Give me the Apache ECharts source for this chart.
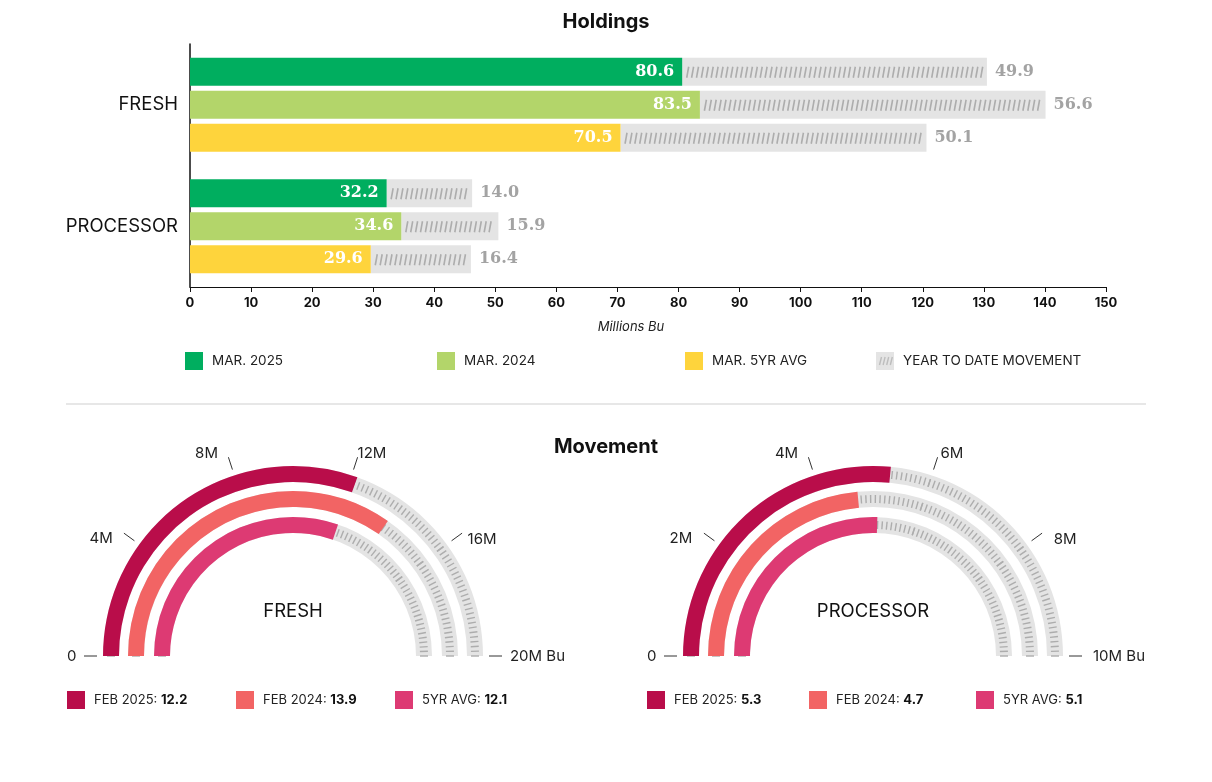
<!DOCTYPE html>
<html>
<head>
  <meta charset="utf-8">
  <title>Holdings and Movement</title>
  <script src="https://cdn.jsdelivr.net/npm/echarts@6/dist/echarts.min.js"></script>
  <style>
    html, body { margin: 0; padding: 0; background: #fff; }
    #chart { width: 1212px; height: 782px; }
  </style>
</head>
<body>
  <div id="chart"></div>
  <script>
    // holdings, millions of bushels
    var cats = ['FRESH', 'PROCESSOR'];
    var mar2025 = [80.6, 32.2];
    var mar2024 = [83.5, 34.6];
    var mar5yr = [70.5, 29.6];
    var ytd2025 = [49.9, 14.0];
    var ytd2024 = [56.6, 15.9];
    var ytd5yr = [50.1, 16.4];

    // movement gauges, millions of bushels
    var ringNames = ['FEB 2025', 'FEB 2024', '5YR AVG'];
    var freshMove = [12.2, 13.9, 12.1];
    var procMove = [5.3, 4.7, 5.1];
    var freshMax = 20, procMax = 10;

    var FONT = 'Inter, "Noto Sans", sans-serif';
    var SERIF = '"DejaVu Serif", serif';
    var BAR_W = 28, BAR_GAP = 5;
    var barColors = ['#00ae5f', '#b3d56a', '#fed43c'];
    var ringColors = ['#b90d4a', '#f26464', '#dd3a73'];
    var GRAY = '#e4e4e4', STRIPE = '#adadad';

    // little hatched square for the legend
    function hatchIcon() {
      var c = document.createElement('canvas');
      c.width = 18; c.height = 18;
      var ctx = c.getContext('2d');
      ctx.fillStyle = GRAY;
      ctx.fillRect(0, 0, 18, 18);
      ctx.strokeStyle = '#bdbdbd';
      ctx.lineWidth = 1.4;
      for (var i = 0; i < 4; i++) {
        var x = 3.5 + i * 3.6;
        ctx.beginPath();
        ctx.moveTo(x, 13);
        ctx.lineTo(x + 2, 5);
        ctx.stroke();
      }
      return 'image://' + c.toDataURL();
    }

    var holdings = [mar2025, mar2024, mar5yr];
    var ytds = [ytd2025, ytd2024, ytd5yr];
    var barNames = ['MAR. 2025', 'MAR. 2024', 'MAR. 5YR AVG'];

    var ytdData = [];
    for (var s = 0; s < 3; s++) {
      for (var i = 0; i < cats.length; i++) {
        ytdData.push([i, s, holdings[s][i], holdings[s][i] + ytds[s][i], ytds[s][i]]);
      }
    }

    function renderYtd(params, api) {
      var cat = api.value(0), slot = api.value(1);
      var p0 = api.coord([api.value(2), cat]);
      var p1 = api.coord([api.value(3), cat]);
      var h = BAR_W;
      var y = p0[1] + (slot - 1) * (BAR_W + BAR_GAP) - h / 2;
      var x0 = p0[0], x1 = p1[0];
      var children = [{
        type: 'rect',
        shape: { x: x0, y: y, width: x1 - x0, height: h },
        style: { fill: GRAY }
      }];
      for (var x = x0 + 4.5; x < x1 - 5; x += 4.9) {
        children.push({
          type: 'line',
          shape: { x1: x, y1: y + 20, x2: x + 2, y2: y + 9 },
          style: { stroke: STRIPE, lineWidth: 1.6 }
        });
      }
      children.push({
        type: 'text',
        style: {
          text: api.value(4).toFixed(1),
          x: x1 + 8, y: y + h / 2,
          align: 'left', verticalAlign: 'middle',
          fill: '#a3a3a3', font: 'bold 16px ' + SERIF
        }
      });
      return { type: 'group', children: children };
    }

    var series = [];
    for (var k = 0; k < 3; k++) {
      series.push({
        name: barNames[k],
        type: 'bar',
        stack: 's' + k,
        barWidth: BAR_W,
        barGap: (BAR_GAP / BAR_W * 100) + '%',
        itemStyle: { color: barColors[k] },
        label: {
          show: true, position: 'insideRight', distance: 8,
          color: '#fff', fontFamily: SERIF, fontWeight: 'bold', fontSize: 16,
          formatter: function (p) { return p.value.toFixed(1); }
        },
        data: holdings[k]
      });
    }
    series.push({
      name: 'YEAR TO DATE MOVEMENT',
      type: 'custom',
      renderItem: renderYtd,
      encode: { x: [2, 3], y: 0 },
      itemStyle: { color: GRAY },
      data: ytdData
    });

    // gauge puts outer labels with inward alignment, nudge each one with padding
    var tickPads = [
      [0, 0, 0, 49],
      [89, 0, 0, 19],
      [52, 3, 0, 0],
      [52, 12, 0, 0],
      [91, 19, 0, 0],
      [0, 3, 0, 0]
    ];
    var tickRich = {};
    tickPads.forEach(function (p, idx) {
      tickRich['t' + idx] = { fontSize: 15, color: '#222', fontFamily: FONT, padding: p };
    });

    function ring(name, value, max, radius, color, center, ticks, outer, title) {
      return {
        type: 'gauge',
        name: name,
        center: center,
        radius: radius,
        startAngle: 180,
        endAngle: 0,
        min: 0,
        max: max,
        splitNumber: 5,
        itemStyle: { color: color },
        axisLine: { lineStyle: { width: 16, color: [[1, GRAY]] } },
        progress: { show: true, width: 16, itemStyle: { color: color } },
        axisTick: {
          show: true, splitNumber: ticks, distance: -12, length: 8,
          lineStyle: { color: STRIPE, width: 1.4 }
        },
        splitLine: outer ? {
          show: true, distance: -35, length: 13,
          lineStyle: { color: '#333', width: 1 }
        } : { show: false },
        axisLabel: outer ? {
          show: true, distance: -63, color: '#222', fontSize: 15, fontFamily: FONT,
          formatter: function (v) {
            var idx = Math.round(v / (max / 5));
            var txt = v === 0 ? '0' : (idx === 5 ? v + 'M Bu' : v + 'M');
            return '{t' + idx + '|' + txt + '}';
          },
          rich: tickRich
        } : { show: false },
        pointer: { show: false },
        anchor: { show: false },
        detail: { show: false },
        title: title ? {
          show: true, offsetCenter: [0, -45], fontSize: 18.5, color: '#111', fontFamily: FONT
        } : { show: false },
        data: [{ value: value, name: title || name }]
      };
    }

    var radii = [190, 165, 139];
    var ringTicks = [24, 21, 18];
    var legends = [];
    var barLegendX = [185, 437, 685, 876];
    var allBarNames = barNames.concat(['YEAR TO DATE MOVEMENT']);
    for (var b = 0; b < 4; b++) {
      legends.push({
        left: barLegendX[b], top: 352, padding: 0,
        itemWidth: 18, itemHeight: 18, selectedMode: false,
        textStyle: { fontSize: 13.5, color: '#222', fontFamily: FONT, padding: [0, 0, 0, 4] },
        data: [b < 3 ? { name: allBarNames[b], icon: 'rect', itemStyle: { color: barColors[b] } }
                     : { name: allBarNames[b], icon: hatchIcon() }]
      });
    }

    var gaugeSets = [
      { key: 'fresh', label: 'FRESH', vals: freshMove, max: freshMax, center: [293, 656], legendX: [67, 236, 395] },
      { key: 'proc', label: 'PROCESSOR', vals: procMove, max: procMax, center: [873, 656], legendX: [647, 809, 976] }
    ];
    gaugeSets.forEach(function (g) {
      for (var r = 0; r < 3; r++) {
        var sname = g.key + ' ' + ringNames[r];
        series.push(ring(sname, g.vals[r], g.max, radii[r], ringColors[r], g.center, ringTicks[r], r === 0, r === 0 ? g.label : null));
        (function (label, val) {
          legends.push({
            left: g.legendX[r], top: 691, padding: 0,
            itemWidth: 18, itemHeight: 18, selectedMode: false,
            formatter: function () { return '{a|' + label + ': }{b|' + val.toFixed(1) + '}'; },
            textStyle: {
              padding: [0, 0, 0, 4],
              rich: {
                a: { fontSize: 13, color: '#222', fontFamily: FONT },
                b: { fontSize: 13, color: '#111', fontFamily: FONT, fontWeight: 'bold' }
              }
            },
            data: [{ name: sname, icon: 'rect', itemStyle: { color: ringColors[r] } }]
          });
        })(ringNames[r], g.vals[r]);
      }
    });

    var chart = echarts.init(document.getElementById('chart'));
    chart.setOption({
      backgroundColor: '#fff',
      animation: false,
      textStyle: { fontFamily: FONT },
      title: [
        { text: 'Holdings', left: 'center', top: 7, textStyle: { fontSize: 20, fontWeight: 'bold', color: '#111', fontFamily: FONT } },
        { text: 'Movement', left: 'center', top: 432, textStyle: { fontSize: 20, fontWeight: 'bold', color: '#111', fontFamily: FONT } }
      ],
      legend: legends,
      grid: { left: 190, right: 106, top: 44, bottom: 495 },
      xAxis: {
        type: 'value', min: 0, max: 150, interval: 10,
        name: 'Millions Bu', nameLocation: 'middle', nameGap: 34,
        nameTextStyle: { fontStyle: 'italic', fontSize: 13, color: '#222', padding: [0, 34, 0, 0] },
        axisLine: { show: true, lineStyle: { color: '#111', width: 1 } },
        axisTick: { show: true, length: 5, lineStyle: { color: '#111' } },
        axisLabel: { fontSize: 13, fontWeight: 'bold', color: '#111', margin: 10 },
        splitLine: { show: false }
      },
      yAxis: {
        type: 'category', data: cats, inverse: true,
        axisLine: { show: true, lineStyle: { color: '#111', width: 1.5 } },
        axisTick: { show: false },
        axisLabel: { fontSize: 18.5, color: '#111', margin: 12 }
      },
      graphic: [{
        type: 'line',
        shape: { x1: 66, y1: 404, x2: 1146, y2: 404 },
        style: { stroke: '#cfcfcf', lineWidth: 1 }
      }],
      series: series
    });
  </script>
</body>
</html>
